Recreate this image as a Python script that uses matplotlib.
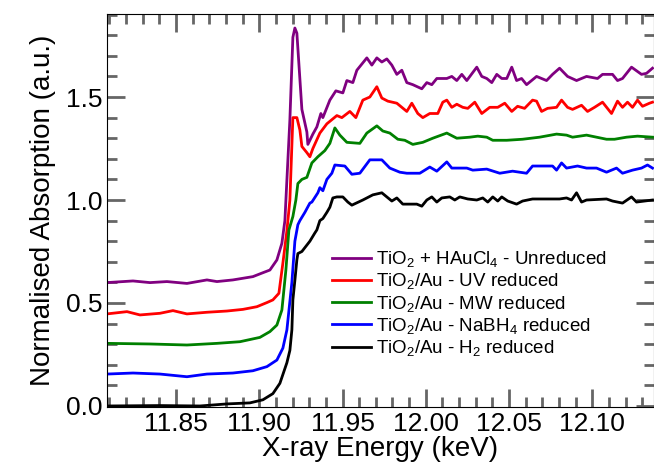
import matplotlib
matplotlib.use('Agg')
import matplotlib.pyplot as plt
from matplotlib.ticker import MultipleLocator

plt.rcParams['font.family'] = ['Liberation Sans', 'DejaVu Sans']
plt.rcParams['mathtext.default'] = 'regular'

# Au L3-edge XANES, normalised and offset
e_unred = [11.8086, 11.8242, 11.8344, 11.8446, 11.8566, 11.8686, 11.8746, 11.8842, 11.8902, 11.8962,
           11.9022, 11.9064, 11.9106, 11.9136, 11.9154, 11.9184, 11.9202, 11.9214, 11.9226, 11.9256,
           11.9286, 11.9292, 11.9322, 11.9346, 11.9370, 11.9382, 11.9424, 11.9460, 11.9502, 11.9526,
           11.9562, 11.9586, 11.9646, 11.9676, 11.9706, 11.9736, 11.9766, 11.9796, 11.9826, 11.9856,
           11.9886, 11.9922, 11.9976, 12.0006, 12.0036, 12.0066, 12.0126, 12.0156, 12.0186, 12.0216,
           12.0246, 12.0306, 12.0336, 12.0366, 12.0396, 12.0426, 12.0456, 12.0486, 12.0516, 12.0545,
           12.0575, 12.0605, 12.0665, 12.0725, 12.0761, 12.0803, 12.0851, 12.0905, 12.0965, 12.1031,
           12.1061, 12.1121, 12.1151, 12.1181, 12.1235, 12.1295, 12.1325, 12.1361]
a_unred = [0.599, 0.607, 0.599, 0.604, 0.595, 0.612, 0.604, 0.612, 0.620, 0.628,
           0.647, 0.660, 0.709, 0.790, 0.90, 1.39, 1.79, 1.835, 1.81, 1.44,
           1.33, 1.27, 1.32, 1.355, 1.42, 1.40, 1.485, 1.53, 1.52, 1.58,
           1.57, 1.63, 1.69, 1.655, 1.69, 1.67, 1.685, 1.655, 1.61, 1.63,
           1.57, 1.56, 1.54, 1.57, 1.56, 1.59, 1.59, 1.60, 1.58, 1.61,
           1.58, 1.645, 1.60, 1.59, 1.57, 1.61, 1.59, 1.59, 1.645, 1.58,
           1.59, 1.56, 1.60, 1.58, 1.61, 1.64, 1.60, 1.58, 1.60, 1.59,
           1.61, 1.61, 1.58, 1.59, 1.645, 1.61, 1.615, 1.64]

e_uv = [11.8086, 11.8206, 11.8284, 11.8404, 11.8482, 11.8566, 11.8686, 11.8806, 11.8902, 11.8986,
        11.9046, 11.9082, 11.9118, 11.9142, 11.9166, 11.9184, 11.9202, 11.9226, 11.9244, 11.9256,
        11.9286, 11.9304, 11.9322, 11.9364, 11.9406, 11.9466, 11.9496, 11.9544, 11.9580, 11.9622,
        11.9664, 11.9706, 11.9736, 11.9772, 11.9826, 11.9886, 11.9916, 11.9952, 11.9982, 12.0024,
        12.0072, 12.0102, 12.0126, 12.0156, 12.0186, 12.0222, 12.0252, 12.0294, 12.0336, 12.0384,
        12.0432, 12.0474, 12.0516, 12.0551, 12.0593, 12.0641, 12.0665, 12.0695, 12.0731, 12.0785,
        12.0815, 12.0851, 12.0881, 12.0935, 12.0971, 12.1013, 12.1061, 12.1115, 12.1151, 12.1181,
        12.1211, 12.1241, 12.1271, 12.1301, 12.1343, 12.1361]
a_uv = [0.447, 0.458, 0.442, 0.450, 0.463, 0.447, 0.455, 0.461, 0.469, 0.482,
        0.502, 0.515, 0.547, 0.694, 0.85, 1.0, 1.40, 1.40, 1.34, 1.26,
        1.23, 1.21, 1.25, 1.325, 1.37, 1.41, 1.40, 1.43, 1.40, 1.485,
        1.50, 1.55, 1.495, 1.48, 1.47, 1.43, 1.47, 1.42, 1.40, 1.42,
        1.42, 1.475, 1.485, 1.45, 1.465, 1.45, 1.445, 1.475, 1.42, 1.45,
        1.45, 1.47, 1.43, 1.455, 1.445, 1.485, 1.48, 1.43, 1.445, 1.45,
        1.485, 1.45, 1.44, 1.46, 1.43, 1.45, 1.475, 1.42, 1.48, 1.45,
        1.475, 1.45, 1.485, 1.455, 1.47, 1.475]

e_mw = [11.8086, 11.8344, 11.8566, 11.8746, 11.8884, 11.9004, 11.9064, 11.9106, 11.9136, 11.9160,
        11.9178, 11.9202, 11.9220, 11.9232, 11.9256, 11.9286, 11.9316, 11.9352, 11.9394, 11.9424,
        11.9454, 11.9484, 11.9526, 11.9604, 11.9646, 11.9706, 11.9742, 11.9784, 11.9832, 11.9874,
        11.9922, 11.9982, 12.0042, 12.0126, 12.0186, 12.0264, 12.0312, 12.0366, 12.0402, 12.0486,
        12.0581, 12.0683, 12.0785, 12.0845, 12.0881, 12.0965, 12.1025, 12.1085, 12.1133, 12.1205,
        12.1271, 12.1361]
a_mw = [0.304, 0.301, 0.296, 0.304, 0.312, 0.333, 0.361, 0.393, 0.466, 0.66,
        0.854, 0.92, 1.0, 1.08, 1.10, 1.11, 1.18, 1.21, 1.24, 1.275,
        1.35, 1.315, 1.28, 1.275, 1.325, 1.36, 1.335, 1.325, 1.295, 1.29,
        1.27, 1.28, 1.30, 1.325, 1.30, 1.305, 1.31, 1.305, 1.29, 1.29,
        1.295, 1.305, 1.32, 1.315, 1.305, 1.315, 1.305, 1.295, 1.295, 1.305,
        1.31, 1.305]

e_nabh4 = [11.8086, 11.8242, 11.8404, 11.8566, 11.8686, 11.8842, 11.8962, 11.9046, 11.9106, 11.9142,
           11.9166, 11.9196, 11.9214, 11.9232, 11.9244, 11.9274, 11.9304, 11.9316, 11.9352, 11.9364,
           11.9382, 11.9406, 11.9436, 11.9454, 11.9514, 11.9556, 11.9604, 11.9664, 11.9736, 11.9784,
           11.9844, 11.9886, 11.9964, 12.0024, 12.0066, 12.0126, 12.0156, 12.0246, 12.0282, 12.0366,
           12.0444, 12.0521, 12.0605, 12.0641, 12.0761, 12.0785, 12.0815, 12.0845, 12.0911, 12.0965,
           12.1025, 12.1085, 12.1145, 12.1181, 12.1241, 12.1295, 12.1331, 12.1361]
a_nabh4 = [0.155, 0.160, 0.155, 0.142, 0.155, 0.160, 0.171, 0.191, 0.223, 0.281,
           0.369, 0.60, 0.80, 0.88, 0.90, 0.94, 0.985, 0.99, 1.035, 1.06,
           1.045, 1.10, 1.13, 1.17, 1.165, 1.125, 1.13, 1.195, 1.195, 1.155,
           1.135, 1.13, 1.13, 1.16, 1.14, 1.185, 1.155, 1.155, 1.145, 1.15,
           1.13, 1.14, 1.13, 1.165, 1.165, 1.145, 1.18, 1.155, 1.165, 1.155,
           1.155, 1.135, 1.155, 1.13, 1.145, 1.155, 1.17, 1.155]

e_h2 = [11.8086, 11.8404, 11.8644, 11.8806, 11.8944, 11.9022, 11.9082, 11.9124, 11.9166, 11.9184,
        11.9196, 11.9202, 11.9214, 11.9226, 11.9232, 11.9256, 11.9304, 11.9334, 11.9346, 11.9364,
        11.9382, 11.9406, 11.9424, 11.9442, 11.9466, 11.9502, 11.9532, 11.9556, 11.9622, 11.9682,
        11.9736, 11.9766, 11.9796, 11.9826, 11.9862, 11.9946, 11.9976, 12.0006, 12.0036, 12.0066,
        12.0096, 12.0144, 12.0174, 12.0204, 12.0252, 12.0306, 12.0342, 12.0372, 12.0402, 12.0432,
        12.0456, 12.0492, 12.0545, 12.0581, 12.0641, 12.0725, 12.0803, 12.0845, 12.0875, 12.0905,
        12.0935, 12.0965, 12.1085, 12.1121, 12.1181, 12.1235, 12.1265, 12.1361]
a_h2 = [0.0, 0.002, 0.0, 0.01, 0.015, 0.03, 0.06, 0.11, 0.21, 0.27,
        0.37, 0.515, 0.61, 0.71, 0.74, 0.75, 0.80, 0.84, 0.855, 0.90,
        0.91, 0.94, 0.965, 1.01, 1.015, 1.015, 0.99, 0.975, 1.0, 1.025,
        1.035, 1.015, 0.995, 1.01, 0.98, 0.98, 0.97, 1.0, 1.015, 0.99,
        1.01, 1.015, 1.0, 1.015, 1.005, 1.0, 1.01, 0.99, 1.015, 0.995,
        1.015, 0.995, 0.98, 0.995, 1.005, 1.005, 1.005, 1.01, 1.0, 1.035,
        0.99, 1.0, 1.005, 0.995, 0.985, 1.015, 0.99, 1.0]

labels = [r'TiO$_2$ + HAuCl$_4$ - Unreduced',
          r'TiO$_2$/Au - UV reduced',
          r'TiO$_2$/Au - MW reduced',
          r'TiO$_2$/Au - NaBH$_4$ reduced',
          r'TiO$_2$/Au - H$_2$ reduced']
colors = ['#800080', '#ff0000', '#008000', '#0000ff', '#000000']

fig = plt.figure(figsize=(6.54, 4.72), dpi=100)
ax = fig.add_axes([0.1636, 0.1377, 0.8364, 0.8326])

series = [(e_unred, a_unred), (e_uv, a_uv), (e_mw, a_mw), (e_nabh4, a_nabh4), (e_h2, a_h2)]
for (e, a), lab, c in zip(series, labels, colors):
    ax.plot(e, a, color=c, lw=2, label=lab)

ax.set_xlim(11.8086, 12.137)
ax.set_ylim(-0.005, 1.903)
ax.xaxis.set_major_locator(MultipleLocator(0.05))
ax.xaxis.set_minor_locator(MultipleLocator(0.01))
ax.yaxis.set_major_locator(MultipleLocator(0.5))
ax.yaxis.set_minor_locator(MultipleLocator(0.1))
# same call pattern as the test that did show ticks, gray and a bit heavier
ax.tick_params(which='both', direction='in', top=True, right=True, color='#666666', width=2)
ax.tick_params(which='major', length=13, labelsize=19)
ax.tick_params(which='minor', length=7)

ax.set_xlabel('X-ray Energy (keV)', fontsize=20, labelpad=0)
ax.set_ylabel('Normalised Absorption (a.u.)', fontsize=20, labelpad=7)

ax.legend(loc='center left', bbox_to_anchor=(0.411, 0.263), frameon=False, fontsize=13.5,
          handlelength=2.1, handletextpad=0.25, labelspacing=0.12, borderpad=0, borderaxespad=0)

fig.savefig('out.png', dpi=100)
